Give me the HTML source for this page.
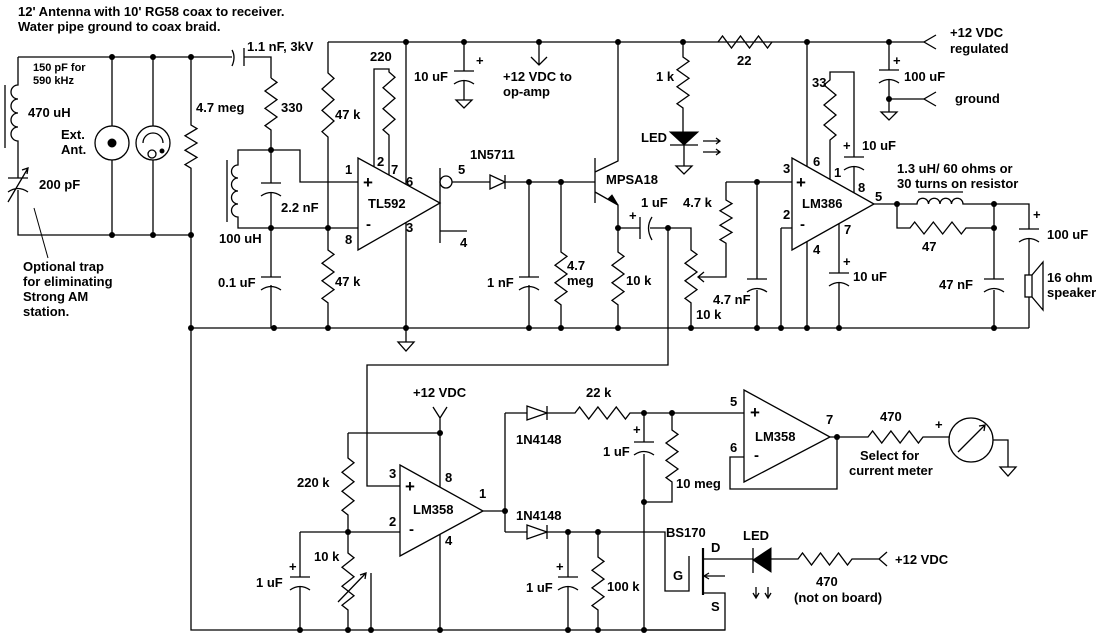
<!DOCTYPE html>
<html><head><meta charset="utf-8"><style>
html,body{margin:0;padding:0;background:#fff}
svg{display:block}
text{font-family:"Liberation Sans",Arial,sans-serif;font-weight:bold;font-size:13px;fill:#000}
</style></head><body>
<svg width="1103" height="639" viewBox="0 0 1103 639" xmlns="http://www.w3.org/2000/svg">
<g fill="none" stroke="#000" stroke-width="1.3">
<path d="M18 57H232M244 57H271V78"/>
<path d="M18 57V85a7 7 0 0 0 0 14a7 7 0 0 0 0 14a7 7 0 0 0 0 14a7 7 0 0 0 0 14V178M18 190V235H191"/>
<path d="M5 85V148"/>
<path d="M8 178H28M8 192Q18 185 28 192M8 202L28 168M22 170L28 168L27 174"/>
<path d="M232 50Q236 57 232 66M244 48V66"/>
<path d="M112 57V126M112 160V235M153 57V126M153 160V235"/>
<circle cx="112" cy="143" r="17"/><circle cx="153" cy="143" r="17"/>
<path d="M143 143A10 10 0 0 1 163 143"/>
<circle cx="152" cy="154" r="4"/>
<path d="M191 57V125l6 3.6l-12 7.2l12 7.2l-12 7.2l12 7.2l-12 7.2l6 3.6V630H725"/>
<path d="M271 78l6 4.33l-12 8.67l12 8.67l-12 8.67l12 8.67l-12 8.67l6 4.33V183M271 193V277M271 285V328"/>
<path d="M261 183H281M261 196Q271 189 281 196M261 277H281M261 290Q271 283 281 290"/>
<path d="M271 150H238V165a6.5 6.5 0 0 0 0 13a6.5 6.5 0 0 0 0 13a6.5 6.5 0 0 0 0 13a6.5 6.5 0 0 0 0 13V228H358"/>
<path d="M227 160V222"/>
<path d="M271 150H300V182H358"/>
<path d="M328 42V73l6 5.33l-12 10.67l12 10.67l-12 10.67l12 10.67l-12 10.67l6 5.33V250l6 4.4l-12 8.8l12 8.8l-12 8.8l12 8.8l-12 8.8l6 4.4V328"/>
<path d="M328 42H924"/>
<path d="M374 167V69H389V72l6 5.25l-12 10.5l12 10.5l-12 10.5l12 10.5l-12 10.5l6 5.25V175"/>
<path d="M406 42V184M406 222V342M398 342H414L406 351Z"/>
<path d="M440 168V243M440 231H467M452 182H490M505 182H595"/>
<circle cx="446" cy="182" r="6"/>
<path d="M490 175V189L505 182ZM505 175V189"/>
<path d="M464 42V71M454 71H474M454 84Q464 77 474 84M464 80V100M456 100H472L464 108Z"/>
<path d="M539 42V65M531 57L539 65L547 57"/>
<path d="M529 182V277M529 285V328M519 277H539M519 290Q529 283 539 290"/>
<path d="M191 328H1029"/>
<path d="M618 42V161L595 172M595 158V203M595 192L618 205V252l6 4.4l-12 8.8l12 8.8l-12 8.8l12 8.8l-12 8.8l6 4.4V328"/>
<path d="M561 182V252l6 4.4l-12 8.8l12 8.8l-12 8.8l12 8.8l-12 8.8l6 4.4V328"/>
<path d="M618 228H640M640 217V239M652 217Q645 228 652 240M650 228H691V250l6 4.4l-12 8.8l12 8.8l-12 8.8l12 8.8l-12 8.8l6 4.4V328"/>
<path d="M668 228V365H367V486H400"/>
<path d="M683 42V57l6 4.25l-12 8.5l12 8.5l-12 8.5l12 8.5l-12 8.5l6 4.25V132M670 145H698M684 145V166M676 166H692L684 174Z"/>
<path d="M703 141H720M716 138L720 141L716 144M703 152H720M716 149L720 152L716 155"/>
<path d="M718 42l4.5 -6l9 12l9 -12l9 12l9 -12l9 12l4.5 -6"/>
<path d="M726 182V200l6 3.6l-12 7.2l12 7.2l-12 7.2l12 7.2l-12 7.2l6 3.6V277H698M704 272L698 277L704 282"/>
<path d="M726 182H792M757 182V279M757 290V328M747 279H767M747 292Q757 285 767 292"/>
<path d="M781 228H792M781 228V328"/>
<path d="M807 42V166M807 242V328"/>
<path d="M830 179V140l6 -5l-12 -10l12 -10l-12 -10l12 -10l-12 -10l6 -5V72H854V157M844 157H864M844 170Q854 163 864 170M854 167V193"/>
<path d="M839 224V273M829 273H849M829 286Q839 279 849 286M839 283V328"/>
<path d="M874 204H917a5.75 5.75 0 0 1 11.5 0a5.75 5.75 0 0 1 11.5 0a5.75 5.75 0 0 1 11.5 0a5.75 5.75 0 0 1 11.5 0H1029V229M1019 229H1039M1019 242Q1029 235 1039 242M1029 239V275M1029 297V328"/>
<path d="M918 192H963"/>
<path d="M897 204V228H910l4.67 -6l9.33 12l9.33 -12l9.33 12l9.33 -12l9.33 12l4.67 -6H994M994 204V279M984 279H1004M984 292Q994 285 1004 292M994 290V328"/>
<rect x="1025" y="275" width="7" height="22"/>
<path d="M1032 275L1043 262V310L1032 297"/>
<path d="M889 42V70M879 70H899M879 83Q889 76 899 83M889 80V112M881 112H897L889 120ZM889 99H924"/>
<path d="M936 35L924 42L936 49M936 92L924 99L936 106"/>
<path d="M433 407L440 418L447 407M440 418V487M440 534V630M348 433H440"/>
<path d="M348 433V458l6 4.75l-12 9.5l12 9.5l-12 9.5l12 9.5l-12 9.5l6 4.75V553l6 4.75l-12 9.5l12 9.5l-12 9.5l12 9.5l-12 9.5l6 4.75V630"/>
<path d="M300 532H400M300 532V577M290 577H310M290 590Q300 583 310 590M300 587V630"/>
<path d="M338 602L366 573M360 575L366 573L365 579M371 573V630"/>
<path d="M483 511H505M505 413V532M505 413H527M547 413H575l4.58 -6l9.17 12l9.17 -12l9.17 12l9.17 -12l9.17 12l4.58 -6H744"/>
<path d="M527 406V420L547 413ZM547 406V420M527 525V539L547 532ZM547 525V539"/>
<path d="M505 532H527M547 532H665V591H689V556"/>
<path d="M644 413V442M634 442H654M634 455Q644 448 654 455M644 454V630"/>
<path d="M672 413V430l6 4.33l-12 8.67l12 8.67l-12 8.67l12 8.67l-12 8.67l6 4.33V502H644"/>
<path d="M568 532V577M558 577H578M558 590Q568 583 578 590M568 587V630"/>
<path d="M598 532V557l6 4.42l-12 8.83l12 8.83l-12 8.83l12 8.83l-12 8.83l6 4.42V630"/>
<path d="M644 630H725V593H703M703 559H753M703 576H725M709 573L704 576L709 579"/>
<path d="M703 548V595" stroke-width="2.2"/>
<path d="M753 548V573M771 559H798l4.5 -6l9 12l9 -12l9 12l9 -12l9 12l4.5 -6H879M887 552L879 559L887 566"/>
<path d="M756 587V597M753 593L756 598L759 593M768 587V597M765 593L768 598L771 593"/>
<path d="M830 437H868l4.58 -6l9.17 12l9.17 -12l9.17 12l9.17 -12l9.17 12l4.58 -6H949M993 440H1008V467M1000 467H1016L1008 476Z"/>
<path d="M837 437V489H730V457H744"/>
<circle cx="971" cy="440" r="22"/>
<path d="M958 452L985 425M979 426L985 425L984 431"/>
</g>
<g fill="#000" stroke="#000">
<path d="M670 132H698L684 145Z"/>
<path d="M771 548V572L753 560Z"/>
<path d="M618 205L608 199L612 195Z"/>
<circle cx="112" cy="143" r="4"/>
<circle cx="162" cy="151" r="2"/>
</g>
<g fill="#fff" stroke="#000" stroke-width="1.3">
<path d="M358 158V250L440 203Z"/>
<path d="M792 158V250L874 204Z"/>
<path d="M400 465V556L483 511Z"/>
<path d="M744 390V482L830 437Z"/>
</g>
<g fill="#000">
<circle cx="112" cy="57" r="3"/><circle cx="153" cy="57" r="3"/><circle cx="191" cy="57" r="3"/>
<circle cx="112" cy="235" r="3"/><circle cx="153" cy="235" r="3"/><circle cx="191" cy="235" r="3"/>
<circle cx="271" cy="150" r="3"/><circle cx="271" cy="228" r="3"/><circle cx="328" cy="228" r="3"/>
<circle cx="406" cy="42" r="3"/><circle cx="464" cy="42" r="3"/><circle cx="539" cy="42" r="3"/>
<circle cx="618" cy="42" r="3"/><circle cx="683" cy="42" r="3"/><circle cx="807" cy="42" r="3"/>
<circle cx="889" cy="42" r="3"/><circle cx="889" cy="99" r="3"/><circle cx="529" cy="182" r="3"/>
<circle cx="561" cy="182" r="3"/><circle cx="618" cy="228" r="3"/><circle cx="668" cy="228" r="3"/>
<circle cx="757" cy="182" r="3"/><circle cx="897" cy="204" r="3"/><circle cx="994" cy="204" r="3"/><circle cx="994" cy="228" r="3"/>
<circle cx="191" cy="328" r="3"/><circle cx="274" cy="328" r="3"/><circle cx="328" cy="328" r="3"/>
<circle cx="406" cy="328" r="3"/><circle cx="529" cy="328" r="3"/><circle cx="561" cy="328" r="3"/>
<circle cx="618" cy="328" r="3"/><circle cx="691" cy="328" r="3"/><circle cx="757" cy="328" r="3"/>
<circle cx="781" cy="328" r="3"/><circle cx="807" cy="328" r="3"/><circle cx="839" cy="328" r="3"/><circle cx="994" cy="328" r="3"/>
<circle cx="440" cy="433" r="3"/><circle cx="348" cy="532" r="3"/><circle cx="505" cy="511" r="3"/>
<circle cx="644" cy="413" r="3"/><circle cx="672" cy="413" r="3"/><circle cx="644" cy="502" r="3"/>
<circle cx="568" cy="532" r="3"/><circle cx="598" cy="532" r="3"/><circle cx="837" cy="437" r="3"/>
<circle cx="300" cy="630" r="3"/><circle cx="348" cy="630" r="3"/><circle cx="371" cy="630" r="3"/>
<circle cx="440" cy="630" r="3"/><circle cx="568" cy="630" r="3"/><circle cx="598" cy="630" r="3"/><circle cx="644" cy="630" r="3"/>
</g>
<text x="18" y="16">12' Antenna with 10' RG58 coax to receiver.</text>
<text x="18" y="31">Water pipe ground to coax braid.</text>
<text x="33" y="71" style="font-size:11px">150 pF for</text>
<text x="33" y="84" style="font-size:11px">590 kHz</text>
<text x="28" y="117">470 uH</text>
<text x="61" y="139">Ext.</text>
<text x="61" y="154">Ant.</text>
<text x="39" y="189">200 pF</text>
<path d="M34 208L48 258" stroke="#000" fill="none"/>
<text x="23" y="271">Optional trap</text>
<text x="23" y="286">for eliminating</text>
<text x="23" y="301">Strong AM</text>
<text x="23" y="316">station.</text>
<text x="196" y="112">4.7 meg</text>
<text x="247" y="51">1.1 nF, 3kV</text>
<text x="281" y="112">330</text>
<text x="335" y="119">47 k</text>
<text x="335" y="286">47 k</text>
<text x="370" y="61">220</text>
<text x="414" y="81">10 uF</text>
<text x="476" y="65">+</text>
<text x="503" y="81">+12 VDC to</text>
<text x="503" y="96">op-amp</text>
<text x="345" y="174">1</text><text x="377" y="166">2</text><text x="391" y="174">7</text>
<text x="406" y="186">6</text><text x="406" y="232">3</text><text x="345" y="244">8</text>
<text x="458" y="174">5</text><text x="460" y="247">4</text>
<text x="363" y="188" style="font-size:17px">+</text><text x="366" y="229" style="font-size:15px">-</text>
<text x="368" y="208">TL592</text>
<text x="281" y="212">2.2 nF</text>
<text x="219" y="243">100 uH</text>
<text x="218" y="287">0.1 uF</text>
<text x="470" y="159">1N5711</text>
<text x="487" y="287">1 nF</text>
<text x="656" y="81">1 k</text>
<text x="641" y="142">LED</text>
<text x="737" y="65">22</text>
<text x="606" y="184">MPSA18</text>
<text x="641" y="207">1 uF</text>
<text x="629" y="220">+</text>
<text x="683" y="207">4.7 k</text>
<text x="567" y="270">4.7</text><text x="567" y="285">meg</text>
<text x="626" y="285">10 k</text>
<text x="713" y="304">4.7 nF</text>
<text x="696" y="319">10 k</text>
<text x="783" y="173">3</text><text x="783" y="219">2</text><text x="813" y="166">6</text>
<text x="834" y="177">1</text><text x="858" y="192">8</text><text x="875" y="201">5</text>
<text x="844" y="234">7</text><text x="813" y="254">4</text>
<text x="796" y="188" style="font-size:17px">+</text><text x="800" y="229" style="font-size:15px">-</text>
<text x="802" y="208">LM386</text>
<text x="812" y="87">33</text>
<text x="843" y="150">+</text><text x="862" y="150">10 uF</text>
<text x="843" y="266">+</text><text x="853" y="281">10 uF</text>
<text x="897" y="173">1.3 uH/ 60 ohms or</text>
<text x="897" y="188">30 turns on resistor</text>
<text x="922" y="251">47</text>
<text x="1033" y="219">+</text>
<text x="1047" y="239">100 uF</text>
<text x="939" y="289">47 nF</text>
<text x="1047" y="282">16 ohm</text>
<text x="1047" y="297">speaker</text>
<text x="893" y="65">+</text>
<text x="904" y="81">100 uF</text>
<text x="950" y="37">+12 VDC</text>
<text x="950" y="53">regulated</text>
<text x="955" y="103">ground</text>
<text x="413" y="397">+12 VDC</text>
<text x="297" y="487">220 k</text>
<text x="389" y="478">3</text><text x="445" y="482">8</text>
<text x="389" y="526">2</text><text x="445" y="545">4</text><text x="479" y="498">1</text>
<text x="405" y="492" style="font-size:17px">+</text><text x="409" y="534" style="font-size:15px">-</text>
<text x="413" y="514">LM358</text>
<text x="314" y="561">10 k</text>
<text x="289" y="571">+</text>
<text x="256" y="587">1 uF</text>
<text x="586" y="397">22 k</text>
<text x="516" y="444">1N4148</text>
<text x="516" y="520">1N4148</text>
<text x="633" y="434">+</text>
<text x="603" y="456">1 uF</text>
<text x="676" y="488">10 meg</text>
<text x="666" y="537">BS170</text>
<text x="711" y="552">D</text><text x="673" y="580">G</text><text x="711" y="611">S</text>
<text x="743" y="540">LED</text>
<text x="556" y="571">+</text>
<text x="526" y="592">1 uF</text>
<text x="607" y="591">100 k</text>
<text x="895" y="564">+12 VDC</text>
<text x="816" y="586">470</text>
<text x="794" y="602">(not on board)</text>
<text x="730" y="406">5</text><text x="730" y="452">6</text><text x="826" y="424">7</text>
<text x="750" y="418" style="font-size:17px">+</text><text x="754" y="460" style="font-size:15px">-</text>
<text x="755" y="441">LM358</text>
<text x="880" y="421">470</text>
<text x="935" y="429">+</text>
<text x="860" y="460">Select for</text>
<text x="849" y="475">current meter</text>
</svg>
</body></html>
